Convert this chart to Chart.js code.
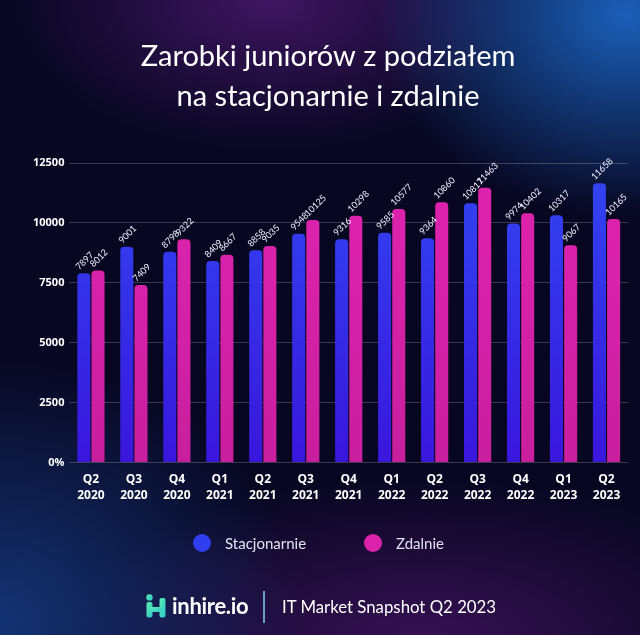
<!DOCTYPE html>
<html lang="pl">
<head>
<meta charset="utf-8">
<script src="https://cdn.jsdelivr.net/npm/chart.js@4.4.1/dist/chart.umd.min.js"></script>
<style>
  html, body { margin: 0; padding: 0; }
  body {
    width: 640px; height: 635px; overflow: hidden; position: relative;
    background:
      radial-gradient(ellipse 250px 200px at 625px 15px, rgba(30,110,210,0.85), rgba(30,110,210,0) 100%),
      radial-gradient(ellipse 260px 150px at 270px 0px, rgba(72,24,108,0.85), rgba(72,24,108,0) 100%),
      radial-gradient(ellipse 300px 260px at 0px 620px, rgba(25,70,150,0.7), rgba(25,70,150,0) 100%),
      radial-gradient(ellipse 360px 160px at 420px 640px, rgba(70,20,100,0.75), rgba(70,20,100,0) 100%),
      #080722;
    font-family: 'Lato', sans-serif;
  }
  #wrap { position: absolute; left: 0; top: 0; width: 640px; height: 635px; }
  #legend { position: absolute; top: 532px; left: 0; width: 640px; height: 22px; }
  .item { position: absolute; top: 0; height: 22px; display: flex; align-items: center; color: #e4e2f2; font-size: 15px; }
  .dot { width: 18px; height: 18px; border-radius: 50%; margin-right: 14px; }
  #footer { position: absolute; left: 0; top: 588px; width: 640px; height: 38px; color: #fff; }
  #brand { position: absolute; left: 146px; top: 4px; display: flex; align-items: center; }
  #brand span { font-size: 22px; font-weight: 700; margin-left: 6px; letter-spacing: -0.3px; }
  #sep { position: absolute; left: 263px; top: 3px; width: 2px; height: 32px; background: #7fc3e6; opacity: 0.8; }
  #snap { position: absolute; left: 282px; top: 8px; font-size: 16.8px; }
</style>
</head>
<body>
<div id="wrap"><canvas id="myChart" width="640" height="635"></canvas></div>
<div id="legend"></div>
<div id="footer">
  <div id="brand">
    <svg width="20" height="24" viewBox="0 0 20 24">
      <defs><linearGradient id="lg" x1="0" y1="0" x2="1" y2="1">
        <stop offset="0" stop-color="#5ef0b0"/><stop offset="1" stop-color="#2bc3c8"/></linearGradient></defs>
      <circle cx="3.5" cy="3.5" r="3.2" fill="url(#lg)"/>
      <rect x="0.5" y="8" width="6" height="15.5" rx="2" fill="url(#lg)"/>
      <rect x="13.5" y="4" width="6" height="19.5" rx="2" fill="url(#lg)"/>
      <rect x="4" y="13" width="12" height="5" fill="url(#lg)"/>
    </svg>
    <span>inhire.io</span>
  </div>
  <div id="sep"></div>
  <div id="snap">IT Market Snapshot Q2 2023</div>
</div>
<script>
const labels = [
    ['Q2', '2020'], ['Q3', '2020'], ['Q4', '2020'],
    ['Q1', '2021'], ['Q2', '2021'], ['Q3', '2021'], ['Q4', '2021'],
    ['Q1', '2022'], ['Q2', '2022'], ['Q3', '2022'], ['Q4', '2022'],
    ['Q1', '2023'], ['Q2', '2023'],
];

const stacjonarnie = [7897, 9001, 8798, 8409, 8858, 9548, 9316, 9585, 9364, 10817, 9974, 10317, 11658];
const zdalnie = [8012, 7409, 9322, 8667, 9035, 10125, 10298, 10577, 10860, 11463, 10402, 9067, 10165];

const yTicks = [0, 2500, 5000, 7500, 10000, 12500];

// gradient fill for bars, top -> bottom
function barFill(top, bottom) {
    return function (ctx) {
        const area = ctx.chart.chartArea;
        if (!area) return top;
        const g = ctx.chart.ctx.createLinearGradient(0, area.top, 0, area.bottom);
        g.addColorStop(0, top);
        g.addColorStop(1, bottom);
        return g;
    };
}

// rotated value labels above each bar
const barValues = {
    id: 'barValues',
    afterDatasetsDraw(chart) {
        const ctx = chart.ctx;
        ctx.save();
        ctx.fillStyle = '#f4f2ff';
        ctx.font = '9px Lato';
        ctx.textAlign = 'left';
        ctx.textBaseline = 'alphabetic';
        chart.data.datasets.forEach((ds, i) => {
            chart.getDatasetMeta(i).data.forEach((bar, j) => {
                ctx.save();
                ctx.translate(bar.x - bar.width / 2 + 2, bar.y - 3);
                ctx.rotate(-Math.PI / 4);
                ctx.fillText(String(ds.data[j]), 0, 0);
                ctx.restore();
            });
        });
        ctx.restore();
    }
};

const data = {
    labels: labels,
    datasets: [{
        label: 'Stacjonarnie',
        data: stacjonarnie,
        backgroundColor: barFill('#3046f2', '#3a16dc'),
        legendColor: '#2f3ff0',
        borderRadius: 4,
        borderSkipped: 'start',
        categoryPercentage: 0.66,
        barPercentage: 0.92,
    },
    {
        label: 'Zdalnie',
        data: zdalnie,
        backgroundColor: barFill('#e023b0', '#c81f9e'),
        legendColor: '#dc22ab',
        borderRadius: 4,
        borderSkipped: 'start',
        categoryPercentage: 0.66,
        barPercentage: 0.92,
    }]
};

const config = {
    type: 'bar',
    data: data,
    options: {
        responsive: false,
        animation: false,
        layout: { padding: { left: 28, right: 12, top: 0, bottom: 130 } },
        plugins: {
            legend: { display: false },
            tooltip: { enabled: false },
            title: {
                display: true,
                text: ['Zarobki juniorów z podziałem', 'na stacjonarnie i zdalnie'],
                color: '#ffffff',
                font: { family: 'Lato', size: 29, weight: 'normal', lineHeight: 40 / 29 },
                padding: { top: 37, bottom: 46 },
            },
        },
        scales: {
            x: {
                grid: { display: false },
                border: { display: false },
                ticks: {
                    color: '#ffffff',
                    font: { family: 'Open Sans', size: 12, weight: 'bold', lineHeight: 1.35 },
                    padding: 1,
                    maxRotation: 0,
                    autoSkip: false,
                },
            },
            y: {
                min: 0,
                max: 12500,
                afterBuildTicks(axis) { axis.ticks = yTicks.map(v => ({ value: v })); },
                grid: { color: 'rgba(255,255,255,0.2)', drawTicks: false },
                border: { display: false },
                ticks: {
                    color: '#ffffff',
                    font: { family: 'Open Sans', size: 11, weight: 'bold' },
                    padding: 5,
                    callback: v => v === 0 ? '0%' : String(v),
                },
            },
        },
    },
    plugins: [barValues],
};

const myChart = new Chart(document.getElementById('myChart'), config);

// legend built from the chart's datasets
const legendBox = document.getElementById('legend');
const legendX = [193, 364];
myChart.data.datasets.forEach((ds, i) => {
    const item = document.createElement('div');
    item.className = 'item';
    item.style.left = legendX[i] + 'px';
    const dot = document.createElement('div');
    dot.className = 'dot';
    dot.style.background = ds.legendColor;
    const txt = document.createElement('span');
    txt.textContent = ds.label;
    item.appendChild(dot);
    item.appendChild(txt);
    legendBox.appendChild(item);
});
</script>
</body>
</html>
